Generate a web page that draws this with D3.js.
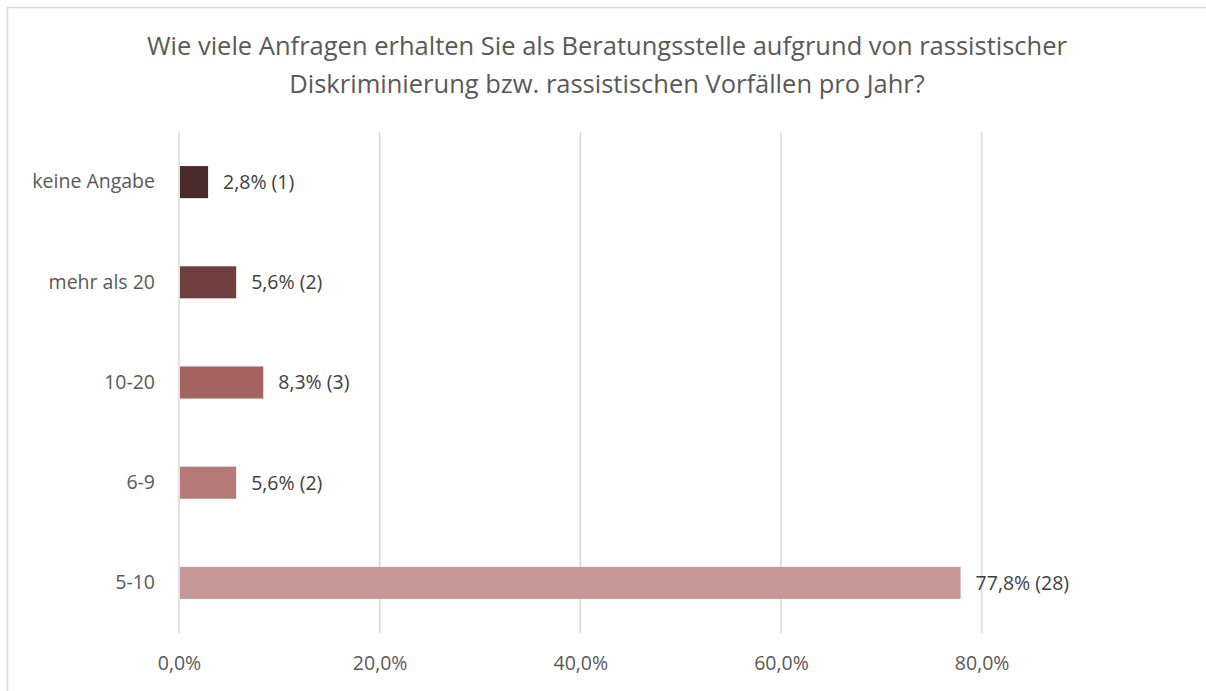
<!DOCTYPE html>
<html>
<head>
<meta charset="utf-8">
<script src="https://cdn.jsdelivr.net/npm/d3@7"></script>
<style>
  body { margin: 0; background: #fff; overflow: hidden; }
  svg { display: block; font-family: "Open Sans", "Noto Sans", sans-serif; }
</style>
</head>
<body>
<div id="chart"></div>
<script>
var categories = ['keine Angabe', 'mehr als 20', '10-20', '6-9', '5-10'];
var percents = [2.8, 5.6, 8.3, 5.6, 77.8];
var counts = [1, 2, 3, 2, 28];
var barColors = ['#4b2a2b', '#6f3f40', '#a46261', '#b57a78', '#c69998'];
var tickValues = [0, 20, 40, 60, 80];
var titleLines = [
  'Wie viele Anfragen erhalten Sie als Beratungsstelle aufgrund von rassistischer',
  'Diskriminierung bzw. rassistischen Vorfällen pro Jahr?'
];

var W = 1206, H = 691;
var margin = { top: 132, left: 179, bottom: 58, right: 124 };
var labelSize = 19.5;

var svg = d3.select('#chart')
  .append('svg')
  .attr('width', W)
  .attr('height', H);

// chart frame (cut off at right/bottom like the original)
svg.append('rect')
  .attr('x', 7.5).attr('y', 7.5)
  .attr('width', W + 40).attr('height', H + 40)
  .attr('fill', '#fff')
  .attr('stroke', '#d9d9d9')
  .attr('stroke-width', 1.5);

svg.append('text')
  .attr('text-anchor', 'middle')
  .attr('fill', '#595959')
  .attr('font-size', 25.5)
  .selectAll('tspan')
  .data(titleLines)
  .join('tspan')
  .attr('x', 607)
  .attr('y', (d, i) => 55 + i * 38)
  .text(d => d);

var x = d3.scaleLinear()
  .domain([0, 90])
  .range([margin.left, W - margin.right]);

var y = d3.scaleBand()
  .domain(categories)
  .range([margin.top, H - margin.bottom])
  .paddingInner(0.68)
  .paddingOuter(0.34);

// gridlines
svg.append('g')
  .selectAll('line')
  .data(tickValues)
  .join('line')
  .attr('x1', d => x(d)).attr('x2', d => x(d))
  .attr('y1', margin.top).attr('y2', H - margin.bottom)
  .attr('stroke', '#d9d9d9')
  .attr('stroke-width', 1.5);

// x axis labels
var xAxis = d3.axisBottom(x)
  .tickValues(tickValues)
  .tickSize(0)
  .tickPadding(0)
  .tickFormat(d => d3.format('.1f')(d).replace('.', ',') + '%');

svg.append('g')
  .attr('transform', 'translate(0,' + (H - margin.bottom + 23) + ')')
  .call(xAxis)
  .call(g => g.select('.domain').remove())
  .selectAll('text')
  .attr('fill', '#595959')
  .attr('font-size', labelSize)
  .attr('font-family', '"Open Sans", "Noto Sans", sans-serif');

// y axis labels
var yAxis = d3.axisLeft(y).tickSize(0).tickPadding(24);
svg.append('g')
  .attr('transform', 'translate(' + margin.left + ',0)')
  .call(yAxis)
  .call(g => g.select('.domain').remove())
  .selectAll('text')
  .attr('fill', '#595959')
  .attr('font-size', labelSize)
  .attr('font-family', '"Open Sans", "Noto Sans", sans-serif');

// bars
svg.append('g')
  .selectAll('rect')
  .data(categories)
  .join('rect')
  .attr('x', x(0) + 1)
  .attr('y', d => y(d))
  .attr('width', (d, i) => x(percents[i]) - x(0))
  .attr('height', y.bandwidth())
  .attr('fill', (d, i) => barColors[i]);

// value labels
svg.append('g')
  .selectAll('text')
  .data(categories)
  .join('text')
  .attr('x', (d, i) => x(percents[i]) + 16)
  .attr('y', d => y(d) + y.bandwidth() / 2)
  .attr('dy', '0.35em')
  .attr('fill', '#404040')
  .attr('font-size', labelSize)
  .text((d, i) => d3.format('.1f')(percents[i]).replace('.', ',') + '% (' + counts[i] + ')');
</script>
</body>
</html>
